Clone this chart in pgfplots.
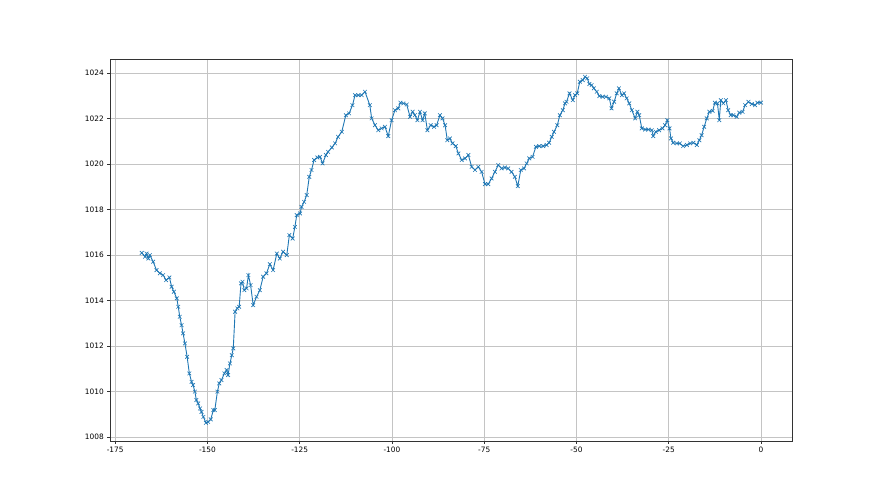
\documentclass[border=0pt]{standalone}
\usepackage{fontspec}
\setmainfont{DejaVu Sans}
\usepackage{pgfplots}
\pgfplotsset{compat=1.18}
\definecolor{mplblue}{HTML}{1F77B4}
\definecolor{gridgray}{HTML}{C4C4C4}
\begin{document}
\begin{tikzpicture}[x=1pt,y=1pt]
\useasboundingbox (0,0) rectangle (880,495);
\begin{axis}[
  at={(110pt,54pt)}, anchor=south west,
  scale only axis, width=682pt, height=382pt,
  xmin=-176.4, xmax=8.4, ymin=1007.83, ymax=1024.62,
  xtick={-175,-150,-125,-100,-75,-50,-25,0},
  ytick={1008,1010,1012,1014,1016,1018,1020,1022,1024},
  /pgf/number format/assume math mode=true,
  /pgf/number format/1000 sep={},
  xticklabel style={font=\fontsize{7.4}{8}\selectfont},
  yticklabel style={font=\fontsize{7.4}{8}\selectfont},
  tick align=outside, tick pos=left,
  major tick length=2.7pt,
  every tick/.style={black!80, line width=0.6pt},
  grid=major,
  major grid style={gridgray, line width=0.65pt},
  axis line style={black!80, line width=0.65pt},
  scaled ticks=false,
]
\addplot[mplblue, line width=0.9pt, mark=x, mark size=2.6pt, mark options={line width=0.65pt}] coordinates {
(-167.8,1016.10) (-166.9,1015.93) (-166.5,1016.07) (-166.0,1015.85) (-165.6,1016.00)
(-164.7,1015.71) (-163.8,1015.34) (-162.9,1015.20) (-162.0,1015.12) (-161.2,1014.90)
(-160.3,1015.02) (-159.7,1014.61) (-159.1,1014.39) (-158.3,1014.10) (-157.9,1013.73)
(-157.5,1013.29) (-157.0,1012.92) (-156.6,1012.56) (-156.1,1012.12) (-155.5,1011.53)
(-154.9,1010.80) (-154.3,1010.43) (-153.9,1010.29) (-153.4,1010.00) (-153.0,1009.63)
(-152.5,1009.48) (-152.0,1009.26) (-151.6,1009.11) (-151.1,1008.89) (-150.4,1008.63)
(-149.8,1008.67) (-149.1,1008.78) (-148.4,1009.19) (-148.0,1009.19) (-147.3,1010.00)
(-146.8,1010.36) (-146.2,1010.51) (-145.4,1010.80) (-144.8,1010.95) (-144.4,1010.73)
(-143.9,1011.24) (-143.4,1011.60) (-143.0,1011.90) (-142.5,1013.51) (-141.9,1013.66)
(-141.4,1013.73) (-140.9,1014.76) (-140.5,1014.83) (-140.0,1014.46) (-139.4,1014.54)
(-138.9,1015.12) (-138.3,1014.68) (-137.6,1013.80) (-136.7,1014.17) (-135.8,1014.46)
(-134.9,1015.05) (-134.0,1015.20) (-133.1,1015.60) (-132.2,1015.34) (-131.2,1016.07)
(-130.4,1015.85) (-129.5,1016.15) (-128.5,1016.00) (-127.8,1016.88) (-126.9,1016.73)
(-126.3,1017.24) (-125.8,1017.76) (-124.9,1017.83) (-124.5,1018.12) (-123.8,1018.34)
(-123.1,1018.64) (-122.4,1019.44) (-121.8,1019.74) (-121.1,1020.18) (-120.2,1020.29)
(-119.5,1020.32) (-118.8,1020.03) (-117.9,1020.40) (-117.3,1020.54) (-116.3,1020.73)
(-115.4,1020.91) (-114.6,1021.20) (-113.6,1021.42) (-112.5,1022.15) (-111.6,1022.23)
(-110.7,1022.59) (-110.0,1023.03) (-109.1,1023.03) (-108.2,1023.03) (-107.3,1023.18)
(-106.0,1022.59) (-105.5,1022.01) (-104.6,1021.71) (-103.7,1021.49) (-102.8,1021.57)
(-101.9,1021.64) (-101.0,1021.23) (-100.1,1021.93) (-99.2,1022.37) (-98.3,1022.45)
(-97.7,1022.70) (-96.9,1022.67) (-96.0,1022.62) (-95.1,1022.08) (-94.4,1022.30)
(-93.8,1022.15) (-93.1,1021.93) (-92.4,1022.30) (-91.7,1021.93) (-91.1,1022.23)
(-90.4,1021.49) (-89.5,1021.71) (-88.6,1021.64) (-87.9,1021.71) (-87.0,1022.15)
(-86.3,1022.01) (-85.6,1021.71) (-85.0,1021.05) (-84.3,1021.13) (-83.6,1020.91)
(-82.7,1020.79) (-82.0,1020.47) (-81.1,1020.18) (-80.2,1020.25) (-79.3,1020.40)
(-78.4,1019.88) (-77.5,1019.74) (-76.6,1019.88) (-75.7,1019.66) (-74.8,1019.12)
(-73.9,1019.12) (-73.0,1019.37) (-72.1,1019.66) (-71.2,1019.96) (-70.3,1019.81)
(-69.4,1019.85) (-68.5,1019.81) (-67.6,1019.66) (-66.7,1019.44) (-65.9,1019.03)
(-65.1,1019.74) (-64.2,1019.81) (-63.5,1020.03) (-62.8,1020.25) (-61.9,1020.32)
(-61.0,1020.76) (-60.1,1020.79) (-59.0,1020.79) (-58.1,1020.84) (-57.4,1020.94)
(-56.7,1021.20) (-56.1,1021.42) (-55.2,1021.71) (-54.5,1022.15) (-53.7,1022.37)
(-53.1,1022.67) (-52.7,1022.74) (-51.9,1023.11) (-51.0,1022.81) (-50.4,1023.03)
(-49.8,1023.11) (-49.1,1023.62) (-48.3,1023.69) (-47.7,1023.84) (-47.1,1023.77)
(-46.5,1023.52) (-45.9,1023.47) (-45.3,1023.33) (-44.5,1023.18) (-43.8,1022.99)
(-42.9,1022.96) (-42.0,1022.96) (-41.1,1022.89) (-40.5,1022.45) (-39.8,1022.74)
(-39.1,1023.11) (-38.5,1023.33) (-37.7,1023.03) (-37.1,1023.11) (-36.4,1022.89)
(-35.7,1022.67) (-35.0,1022.37) (-34.1,1022.01) (-33.5,1022.30) (-33.0,1022.15)
(-32.3,1021.57) (-31.4,1021.52) (-30.5,1021.52) (-29.6,1021.49) (-29.2,1021.23)
(-28.5,1021.42) (-27.6,1021.49) (-26.7,1021.57) (-26.0,1021.71) (-25.4,1021.93)
(-24.8,1021.57) (-24.4,1021.13) (-23.8,1020.94) (-22.8,1020.91) (-22.0,1020.91)
(-21.1,1020.79) (-20.1,1020.84) (-19.2,1020.91) (-18.3,1020.94) (-17.4,1020.84)
(-16.7,1021.05) (-16.1,1021.27) (-15.4,1021.64) (-14.7,1022.01) (-14.0,1022.30)
(-13.1,1022.34) (-12.5,1022.70) (-11.8,1022.67) (-11.3,1021.93) (-10.9,1022.81)
(-10.2,1022.67) (-9.5,1022.81) (-8.9,1022.37) (-8.2,1022.15) (-7.5,1022.15)
(-6.6,1022.08) (-5.9,1022.26) (-5.0,1022.30) (-4.3,1022.59) (-3.4,1022.74)
(-2.5,1022.64) (-1.6,1022.59) (-1.0,1022.70) (0.0,1022.70)
};
\end{axis}
\end{tikzpicture}
\end{document}
